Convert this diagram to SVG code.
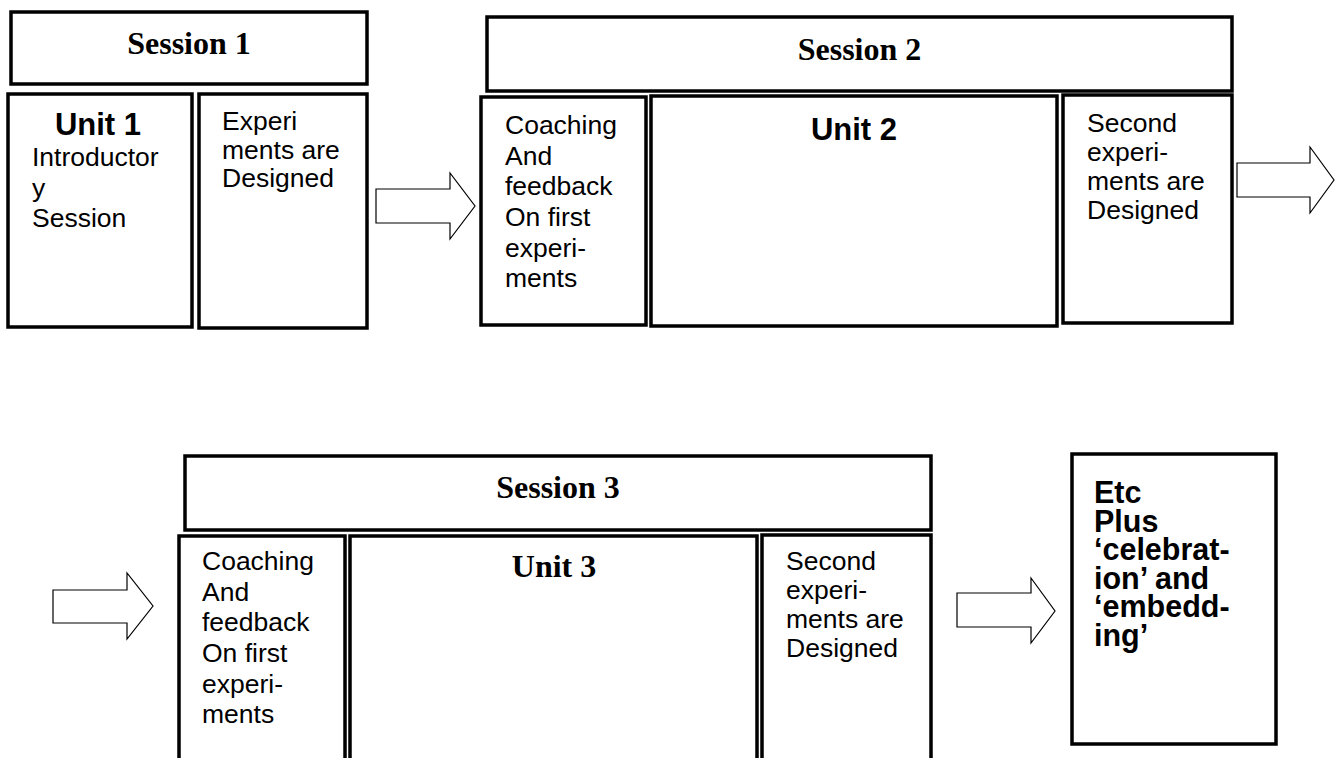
<svg xmlns="http://www.w3.org/2000/svg" width="1341" height="758" viewBox="0 0 1341 758">
<style>
.box{fill:#fff;stroke:#000;stroke-width:3.5}
.arr{fill:#fff;stroke:#000;stroke-width:1.2;stroke-linejoin:miter}
.ses{font-family:"Liberation Serif","Times New Roman",serif;font-weight:bold;font-size:32px;text-anchor:middle;fill:#000}
.ub{font-family:"Liberation Sans",Arial,sans-serif;font-weight:bold;font-size:31px;text-anchor:middle;fill:#000}
.t{font-family:"Liberation Sans",Arial,sans-serif;font-size:26.5px;fill:#000}
.eb{font-family:"Liberation Sans",Arial,sans-serif;font-weight:bold;font-size:30.5px;fill:#000}
</style>
<rect width="1341" height="758" fill="#fff"/>
<g id="session1">
<rect class="box" x="11" y="12" width="356" height="72"/>
<text class="ses" x="189" y="54">Session 1</text>
</g>
<g id="unit1">
<rect class="box" x="8" y="94" width="184" height="233"/>
<text class="ub" x="98" y="135">Unit 1</text>
<text class="t" x="32"><tspan x="32" y="166">Introductor</tspan><tspan x="32" y="196.5">y</tspan><tspan x="32" y="227">Session</tspan></text>
</g>
<g id="experiments1">
<rect class="box" x="199" y="94" width="168" height="234"/>
<text class="t"><tspan x="222" y="130">Experi</tspan><tspan x="222" y="158.5">ments are</tspan><tspan x="222" y="187">Designed</tspan></text>
</g>
<g id="session2">
<rect class="box" x="487" y="17" width="745" height="74"/>
<text class="ses" x="859.5" y="60">Session 2</text>
</g>
<g id="coaching2">
<rect class="box" x="481" y="97" width="165" height="228"/>
<text class="t"><tspan x="505" y="134">Coaching</tspan><tspan x="505" y="164.7">And</tspan><tspan x="505" y="195.3">feedback</tspan><tspan x="505" y="226">On first</tspan><tspan x="505" y="256.7">experi-</tspan><tspan x="505" y="287.3">ments</tspan></text>
</g>
<g id="unit2">
<rect class="box" x="651" y="96" width="406" height="230"/>
<text class="ub" x="854" y="140">Unit 2</text>
</g>
<g id="second2">
<rect class="box" x="1063" y="95" width="169" height="228"/>
<text class="t"><tspan x="1087" y="132">Second</tspan><tspan x="1087" y="161">experi-</tspan><tspan x="1087" y="190">ments are</tspan><tspan x="1087" y="219">Designed</tspan></text>
</g>
<g id="session3">
<rect class="box" x="185" y="456" width="746" height="74"/>
<text class="ses" x="558" y="498">Session 3</text>
</g>
<g id="coaching3">
<rect class="box" x="179" y="536" width="166" height="240"/>
<text class="t"><tspan x="202" y="570">Coaching</tspan><tspan x="202" y="600.7">And</tspan><tspan x="202" y="631.3">feedback</tspan><tspan x="202" y="662">On first</tspan><tspan x="202" y="692.7">experi-</tspan><tspan x="202" y="723.3">ments</tspan></text>
</g>
<g id="unit3">
<rect class="box" x="350" y="536" width="407" height="240"/>
<text class="ses" x="554" y="577">Unit 3</text>
</g>
<g id="second3">
<rect class="box" x="762" y="535" width="169" height="240"/>
<text class="t"><tspan x="786" y="570">Second</tspan><tspan x="786" y="599">experi-</tspan><tspan x="786" y="628">ments are</tspan><tspan x="786" y="657">Designed</tspan></text>
</g>
<g id="etc">
<rect class="box" x="1072" y="454" width="204" height="290"/>
<text class="eb"><tspan x="1094" y="503">Etc</tspan><tspan x="1094" y="531.5">Plus</tspan><tspan x="1094" y="560">‘celebrat-</tspan><tspan x="1094" y="588.5">ion’ and</tspan><tspan x="1094" y="617">‘embedd-</tspan><tspan x="1094" y="645.5">ing’</tspan></text>
</g>
<g id="connectors">
<polygon class="arr" points="376,189 450,189 450,173 475,206 450,239 450,223 376,223"/>
<polygon class="arr" points="1237,163 1310,163 1310,147 1334,180 1310,213 1310,197 1237,197"/>
<polygon class="arr" points="53,590 127,590 127,573 153,606 127,639 127,623 53,623"/>
<polygon class="arr" points="957,593 1031,593 1031,578 1055,611 1031,643 1031,627 957,627"/>
</g>
</svg>
